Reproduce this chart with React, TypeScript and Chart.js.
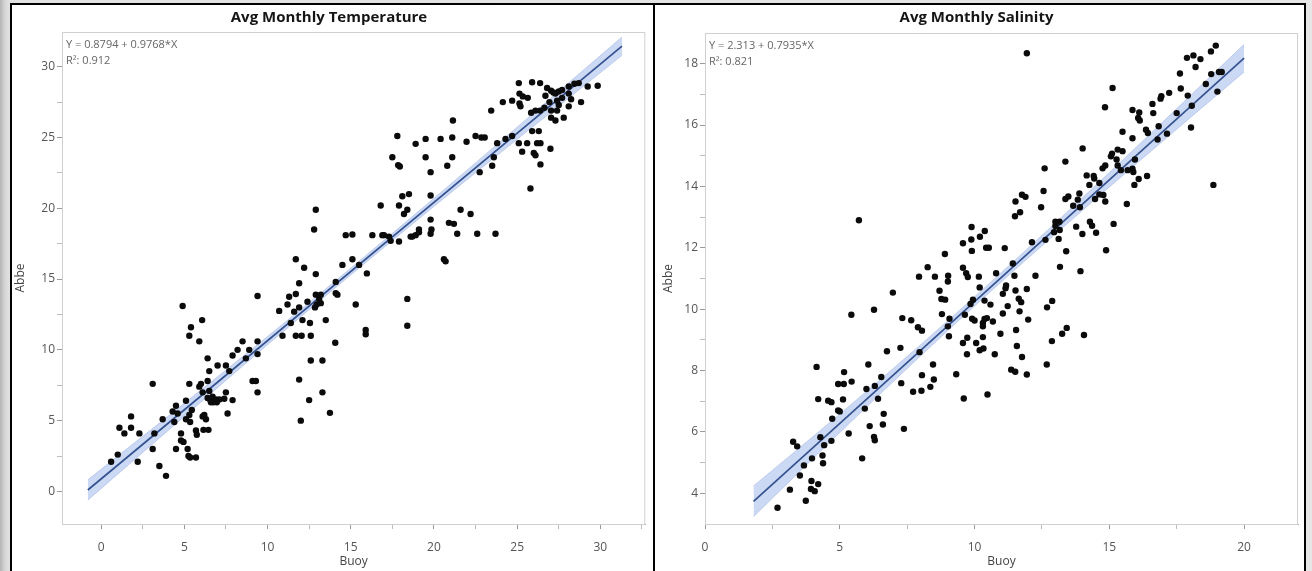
import React, { useEffect, useRef } from 'react';
import { Chart, registerables } from 'chart.js';

Chart.register(...registerables);

// ---------------- Avg Monthly Temperature ----------------
const tempBuoy = [
  0.6, 1.0, 1.1, 1.4, 1.8, 1.8, 2.2, 2.3, 3.1, 3.1, 3.2, 3.5, 3.7, 3.9, 4.3, 4.4, 4.5, 4.5, 4.6, 4.8,
  4.8, 4.95, 4.9, 5.1, 5.1, 5.2, 5.25, 5.35, 5.3, 5.3, 5.3, 5.35, 5.4, 5.45, 5.7, 5.7, 5.75, 5.9, 5.9, 6.0,
  6.07, 6.1, 6.1, 6.15, 6.2, 6.3, 6.4, 6.4, 6.45, 6.4, 6.5, 6.5, 6.55, 6.6, 6.7, 6.75, 6.9, 6.95, 7.0, 7.1,
  7.4, 7.5, 7.5, 7.6, 7.7, 7.9, 7.9, 8.2, 8.5, 8.7, 8.9, 9.1, 9.3, 9.4, 9.4, 9.4, 9.4, 10.7, 10.9, 11.2,
  11.3, 11.4, 11.6, 11.7, 11.7, 11.7, 11.9, 11.9, 11.9, 12.0, 12.05, 12.1, 12.2, 12.4, 12.5, 12.55, 12.6, 12.6, 12.9, 12.9,
  12.9, 12.8, 12.85, 12.95, 13.1, 13.2, 13.2, 13.3, 13.3, 13.5, 13.75,
  14.07, 14.1, 14.1, 14.2, 14.5, 15.1, 15.3, 15.5, 15.9, 15.9, 15.97, 16.3, 14.7, 15.1, 16.8, 16.9, 17.0, 17.3, 17.4, 17.5,
  17.8, 17.85, 17.95, 17.9, 17.9, 18.1, 18.2, 18.4, 18.4, 18.4, 18.5, 18.6, 18.7, 18.9, 18.9, 19.1, 19.1, 19.5, 19.5, 19.8,
  19.8, 19.8, 19.8, 19.85, 20.4, 20.6, 20.7, 20.8, 20.9, 21.1, 21.1, 21.2, 21.4, 21.6, 21.96, 22.2, 22.5, 22.6, 22.75, 22.85,
  23.05, 23.5, 23.6, 23.7, 23.8, 24.3, 24.7, 25.1, 25.3, 25.6, 25.8, 26.0, 26.1, 25.9, 26.3, 26.2, 26.4, 26.4, 27.0,
  21.14, 23.44, 24.14, 24.7, 25.1, 25.9, 26.38, 25.14, 25.34, 25.64, 25.14, 25.2, 25.84, 26.1, 26.38, 26.7, 26.8, 27.04, 27.18, 27.3,
  27.5, 27.7, 28.1, 28.44, 28.7, 29.24, 29.84, 28.1, 28.24, 27.7, 27.5, 27.4, 26.94, 26.64, 27.04, 27.4, 28.1, 28.84, 27.8, 27.04,
  27.3,
];
const tempAbbe = [
  2.1, 2.6, 4.5, 4.1, 4.5, 5.3, 2.1, 4.1, 7.6, 3.0, 4.1, 1.8, 5.1, 1.1, 5.65, 4.9, 3.0, 6.05, 5.5, 4.1,
  3.6, 3.5, 13.1, 5.1, 6.4, 3.0, 2.5, 2.4, 11.0, 7.6, 5.4, 4.9, 11.6, 5.75, 2.4, 4.3, 4.0, 10.6, 7.4, 7.6,
  12.1, 7.0, 5.3, 4.35, 5.4, 5.1, 7.8, 9.4, 4.35, 6.6, 8.5, 7.1, 6.5, 6.3, 6.7, 6.3, 6.5, 6.3, 8.9, 6.5,
  6.55, 8.9, 7.0, 5.5, 8.5, 6.45, 9.6, 10.0, 10.6, 9.4, 10.0, 7.8, 7.8, 10.6, 9.7, 7.0, 13.8, 12.75, 11.0, 13.2,
  13.75, 11.9, 12.7, 13.95, 11.0, 16.4, 7.9, 13.0, 14.7, 5.0, 11.0, 12.1, 15.8, 13.4, 6.45, 11.9, 9.25, 11.0, 15.35, 13.9,
  19.9, 18.5, 13.0, 13.2, 13.6, 13.3, 13.9, 9.25, 7.0, 12.1, 5.55,
  10.5, 14.8, 14.0, 13.9, 16.0, 16.4, 13.2, 16.0, 11.4, 11.1, 15.4, 18.1, 18.1, 18.15, 20.2, 18.1, 18.1, 18.0, 17.7, 23.6,
  25.1, 23.05, 22.95, 20.2, 17.65, 20.85, 19.6, 19.9, 13.6, 11.7, 21.0, 18.0, 18.0, 24.55, 18.1, 18.5, 18.3, 24.9, 23.6, 19.2,
  22.55, 18.2, 20.9, 18.5, 24.9, 16.4, 16.25, 23.0, 18.97, 25.0, 23.6, 18.9, 18.2, 19.9, 24.7, 19.6, 25.1, 18.2, 22.55, 25.0,
  25.0, 23.0, 23.6, 18.2, 24.6, 24.9, 25.1, 24.6, 24.0, 24.6, 21.4, 23.9, 23.75, 25.45, 25.45, 24.6, 24.6, 23.1, 24.2,
  26.2, 26.9, 27.5, 27.6, 28.84, 28.9, 28.84, 28.1, 27.9, 27.8, 27.4, 27.2, 26.75, 26.9, 26.9, 27.95, 28.5, 28.3, 28.18, 28.1,
  28.25, 28.35, 28.6, 28.8, 28.84, 28.6, 28.65, 28.1, 27.7, 27.8, 27.3, 27.6, 27.5, 27.1, 26.9, 26.9, 27.2, 27.5, 26.4, 26.4,
  26.2,
];
const tempFitX = [-0.8, 31.3];
const tempFitY = [0.1, 31.45];
const tempBandX = [-0.8, 5, 10, 15, 20, 25, 31.3];
const tempBandLow = [-0.62, 5.3, 10.36, 15.29, 20.13, 24.87, 30.8];
const tempBandHigh = [0.82, 6.22, 10.94, 15.77, 20.7, 25.73, 32.1];
const tempXMajor = [0, 5, 10, 15, 20, 25, 30];
const tempXMinor = [2.5, 7.5, 12.5, 17.5, 22.5, 27.5, 32.5];
const tempYMajor = [0, 5, 10, 15, 20, 25, 30];
const tempYMinor = [-2.5, 2.5, 7.5, 12.5, 17.5, 22.5, 27.5, 32.5];

// ---------------- Avg Monthly Salinity ----------------
const salBuoy = [
  5.71, 9.89, 10.38, 9.88, 10.2, 9.57, 10.43, 10.53, 9.9, 8.9, 8.26, 9.57, 9.69, 10.8, 7.94, 8.53, 9.02, 9.75, 10.16,
  11.94, 18.95, 18.77, 18.12, 18.38, 17.88, 18.2, 17.62, 18.78, 19.07, 19.17, 19.01, 18.58, 17.65, 17.91, 17.22, 16.93, 16.9, 15.12, 14.84,
  16.6, 16.63, 15.86, 16.11, 16.07, 16.13, 17.5, 18.06, 18.03, 16.83, 16.36, 16.43, 17.14, 16.79, 15.49, 15.86, 14.01, 15.1, 15.06, 15.31,
  15.49, 15.27, 15.31, 15.43, 15.95, 15.86, 15.68, 15.89, 16.4, 16.09, 15.93, 15.65, 18.86, 13.37, 12.6, 14.16, 14.42, 14.44, 14.75, 14.85,
  14.26, 14.63, 12.56, 11.76, 11.89, 11.52, 11.69, 11.5, 13.89, 13.48, 13.37, 13.83, 13.66, 13.91, 14.47, 14.78, 14.85, 14.63, 12.47, 13.0,
  13.15, 13.77, 14.28, 14.36, 14.0, 14.51, 15.16, 12.95, 13.12, 13.16, 13.0, 12.63, 12.13, 11.12, 13.4, 14.88, 13.17, 13.93, 11.48, 12.26,
  11.42,
  2.69, 3.74, 3.15, 3.95, 4.2, 3.93, 4.07, 3.52, 3.67, 3.97, 4.38, 4.36, 3.27, 3.42, 4.28, 4.42, 4.69, 4.72, 5.83, 5.33,
  6.11, 6.27, 6.3, 6.6, 6.63, 7.38, 5.93, 6.42, 4.94, 5.0, 4.57, 4.69, 4.2, 5.12, 5.99, 6.3, 6.54, 4.94, 5.15, 5.44,
  5.16, 4.14, 6.06, 7.28, 7.72, 8.03, 8.36, 8.49, 8.05, 8.46, 9.32, 9.6, 10.48, 7.96, 7.25, 6.75, 5.43, 6.27, 6.97, 7.32,
  7.65, 7.9, 8.05, 8.79, 8.7, 8.77, 8.91, 9.01, 9.07, 9.01, 9.05, 9.57, 9.73, 9.72, 10.06, 10.19, 10.33, 10.31, 10.75, 9.64,
  9.91, 10.0, 10.31, 10.37, 10.46, 10.68, 10.31, 10.19, 10.37, 10.59, 9.85, 9.94,
  11.17, 11.15, 11.05, 11.52, 11.94, 11.64, 11.73, 11.23, 11.05, 11.67, 11.99, 12.69, 12.88, 11.54, 10.96, 13.25, 13.42, 14.06, 12.87, 11.57,
  11.76, 12.68, 11.36, 11.51, 11.94,
];
const salAbbe = [
  12.9, 12.68, 12.55, 12.27, 12.36, 12.15, 12.0, 12.0, 11.9, 11.8, 11.37, 11.35, 11.17, 11.17, 11.06, 11.06, 11.09, 11.05, 11.06,
  18.34, 18.59, 18.4, 18.27, 18.15, 18.19, 17.89, 17.68, 17.66, 17.73, 17.73, 17.09, 17.34, 17.19, 16.96, 17.05, 16.94, 16.86, 17.21, 16.58,
  16.69, 16.39, 16.49, 16.41, 16.23, 16.15, 16.39, 16.63, 15.92, 15.96, 15.85, 15.74, 15.72, 15.53, 15.78, 15.57, 15.24, 15.07, 14.98, 15.2,
  15.15, 14.88, 14.68, 14.53, 14.88, 14.58, 14.53, 14.47, 14.34, 14.24, 14.05, 13.43, 14.05, 14.81, 14.59, 14.36, 14.34, 14.26, 14.59, 14.68,
  14.05, 14.11, 13.85, 13.73, 13.66, 13.51, 13.16, 13.03, 13.77, 13.67, 13.59, 13.57, 13.37, 13.32, 13.59, 13.72, 13.51, 13.74, 13.32, 12.85,
  12.85, 12.69, 12.85, 12.72, 12.45, 12.49, 12.78, 12.51, 12.29, 12.58, 12.71, 12.26, 12.18, 11.99, 11.89, 11.92, 11.38, 11.24, 11.09, 11.09,
  11.49,
  3.53, 3.76, 4.12, 4.4, 4.3, 4.14, 4.07, 4.58, 4.91, 5.14, 4.98, 5.23, 5.68, 5.53, 5.83, 5.57, 5.71, 6.43, 5.14, 5.95,
  6.19, 5.84, 5.73, 6.24, 6.59, 6.1, 6.76, 7.08, 6.7, 6.67, 7.02, 6.97, 7.07, 7.06, 7.4, 7.5, 7.79, 7.56, 7.56, 7.64,
  7.95, 8.12, 8.2, 7.59, 7.31, 7.34, 7.47, 7.71, 7.85, 8.2, 7.88, 7.09, 7.22, 8.6, 8.74, 8.63, 9.82, 9.98, 10.54, 9.71,
  9.64, 9.41, 9.3, 9.84, 10.6, 10.33, 10.31, 10.9, 9.69, 9.44, 9.12, 8.9, 9.07, 8.53, 8.9, 8.66, 8.72, 9.09, 8.53, 9.82,
  9.69, 9.63, 9.55, 9.68, 9.71, 9.6, 9.44, 10.71, 10.28, 10.15, 10.17, 10.31,
  10.77, 10.68, 10.5, 10.61, 10.66, 10.34, 10.23, 10.1, 9.86, 9.93, 9.66, 10.06, 10.27, 9.32, 9.2, 9.2, 9.39, 9.16, 8.96, 8.8,
  8.44, 8.2, 8.03, 7.96, 7.87,
];
const salFitX = [1.8, 20];
const salFitY = [3.74, 18.18];
const salBandX = [1.8, 5, 8, 10.5, 13, 16, 20];
const salBandLow = [3.24, 5.98, 8.48, 10.5, 12.45, 14.74, 17.73];
const salBandHigh = [4.24, 6.58, 8.84, 10.8, 12.81, 15.28, 18.63];
const salXMajor = [0, 5, 10, 15, 20];
const salXMinor = [2.5, 7.5, 12.5, 17.5];
const salYMajor = [4, 6, 8, 10, 12, 14, 16, 18];
const salYMinor = [5, 7, 9, 11, 13, 15, 17];

const FONT = "'Open Sans', 'Noto Sans', sans-serif";

type PanelSpec = {
  title: string;
  eq: string;
  r2: string;
  buoy: number[];
  abbe: number[];
  fitX: number[];
  fitY: number[];
  bandX: number[];
  bandLow: number[];
  bandHigh: number[];
  xMin: number;
  xMax: number;
  yMin: number;
  yMax: number;
  xMajor: number[];
  xMinor: number[];
  yMajor: number[];
  yMinor: number[];
  padRight: number;
  titleBottom: number;
  yTitlePad: number;
};

const boxPlugin = {
  id: 'plotBox',
  beforeDatasetsDraw(chart: any) {
    const { ctx, chartArea } = chart;
    ctx.save();
    ctx.strokeStyle = '#d0d0d0';
    ctx.lineWidth = 1;
    ctx.strokeRect(chartArea.left + 0.5, chartArea.top + 0.5, chartArea.right - chartArea.left - 1, chartArea.bottom - chartArea.top);
    ctx.restore();
  },
};

function makeEqPlugin(eq: string, r2: string) {
  return {
    id: 'eqText',
    afterDraw(chart: any) {
      const { ctx, chartArea } = chart;
      ctx.save();
      ctx.fillStyle = '#666';
      ctx.font = `11px ${FONT}`;
      ctx.textBaseline = 'middle';
      ctx.textAlign = 'left';
      ctx.fillText(eq, chartArea.left + 4, chartArea.top + 12.5);
      ctx.fillText(r2, chartArea.left + 4, chartArea.top + 29);
      ctx.restore();
    },
  };
}

function tickSet(major: number[], minor: number[], min: number, max: number) {
  return [...major, ...minor].filter((v) => v >= min && v <= max).sort((a, b) => a - b);
}

function makeConfig(p: PanelSpec): any {
  const pts = p.buoy.map((x, i) => ({ x, y: p.abbe[i] }));
  const fit = p.fitX.map((x, i) => ({ x, y: p.fitY[i] }));
  const low = p.bandX.map((x, i) => ({ x, y: p.bandLow[i] }));
  const high = p.bandX.map((x, i) => ({ x, y: p.bandHigh[i] }));
  const xTicks = tickSet(p.xMajor, p.xMinor, p.xMin, p.xMax);
  const yTicks = tickSet(p.yMajor, p.yMinor, p.yMin, p.yMax);
  const tickColor = (major: number[]) => (c: any) =>
    c.tick && major.includes(c.tick.value) ? '#9a9a9a' : '#bdbdbd';
  return {
    type: 'line',
    data: {
      datasets: [
        {
          label: 'Abbe',
          data: pts,
          showLine: false,
          pointRadius: 3.2,
          pointHoverRadius: 3.2,
          pointBackgroundColor: '#0b0b0b',
          pointBorderWidth: 0,
          borderColor: '#0b0b0b',
        },
        {
          label: 'Fit',
          data: fit,
          showLine: true,
          pointRadius: 0,
          borderColor: '#34528f',
          borderWidth: 1.7,
          fill: false,
        },
        {
          label: 'Lower',
          data: low,
          showLine: true,
          pointRadius: 0,
          borderColor: 'rgba(140,165,220,0.55)',
          borderWidth: 0.8,
          cubicInterpolationMode: 'monotone',
          fill: false,
        },
        {
          label: 'Upper',
          data: high,
          showLine: true,
          pointRadius: 0,
          borderColor: 'rgba(140,165,220,0.55)',
          borderWidth: 0.8,
          cubicInterpolationMode: 'monotone',
          backgroundColor: 'rgba(120,155,225,0.38)',
          fill: '-1',
        },
      ],
    },
    options: {
      animation: false,
      responsive: false,
      maintainAspectRatio: false,
      events: [],
      layout: { padding: { left: 0, right: p.padRight, top: 0, bottom: 0 } },
      plugins: {
        legend: { display: false },
        tooltip: { enabled: false },
        title: {
          display: true,
          text: p.title,
          color: '#151515',
          font: { family: FONT, size: 15, weight: 'bold' },
          padding: { top: 4, bottom: p.titleBottom },
        },
      },
      scales: {
        x: {
          type: 'linear',
          min: p.xMin,
          max: p.xMax,
          afterBuildTicks: (s: any) => {
            s.ticks = xTicks.map((v) => ({ value: v }));
          },
          afterFit: (s: any) => {
            s.height = 47;
          },
          grid: { display: true, drawOnChartArea: false, drawTicks: true, tickLength: 5, tickColor: tickColor(p.xMajor) },
          border: { display: true, color: '#a8a8a8', width: 1 },
          ticks: {
            autoSkip: false,
            maxRotation: 0,
            padding: 11,
            color: '#555',
            font: { family: FONT, size: 12 },
            callback: (v: number) => (p.xMajor.includes(v) ? String(v) : ''),
          },
          title: {
            display: true,
            text: 'Buoy',
            color: '#444',
            font: { family: FONT, size: 12 },
            padding: { top: 0, bottom: 2 },
          },
        },
        y: {
          type: 'linear',
          min: p.yMin,
          max: p.yMax,
          afterBuildTicks: (s: any) => {
            s.ticks = yTicks.map((v) => ({ value: v }));
          },
          afterFit: (s: any) => {
            s.width = 50;
          },
          grid: { display: true, drawOnChartArea: false, drawTicks: true, tickLength: 5, tickColor: tickColor(p.yMajor) },
          border: { display: true, color: '#a8a8a8', width: 1 },
          ticks: {
            autoSkip: false,
            padding: 2,
            color: '#555',
            font: { family: FONT, size: 12 },
            callback: (v: number) => (p.yMajor.includes(v) ? String(v) : ''),
          },
          title: {
            display: true,
            text: 'Abbe',
            color: '#444',
            font: { family: FONT, size: 12 },
            padding: { top: p.yTitlePad, bottom: 0 },
          },
        },
      },
    },
    plugins: [boxPlugin, makeEqPlugin(p.eq, p.r2)],
  };
}

const tempSpec: PanelSpec = {
  title: 'Avg Monthly Temperature',
  eq: 'Y = 0.8794 + 0.9768*X',
  r2: 'R²: 0.912',
  buoy: tempBuoy,
  abbe: tempAbbe,
  fitX: tempFitX,
  fitY: tempFitY,
  bandX: tempBandX,
  bandLow: tempBandLow,
  bandHigh: tempBandHigh,
  xMin: -2.35,
  xMax: 32.7,
  yMin: -2.3,
  yMax: 32.45,
  xMajor: tempXMajor,
  xMinor: tempXMinor,
  yMajor: tempYMajor,
  yMinor: tempYMinor,
  padRight: 7,
  titleBottom: 5,
  yTitlePad: 1,
};

const salSpec: PanelSpec = {
  title: 'Avg Monthly Salinity',
  eq: 'Y = 2.313 + 0.7935*X',
  r2: 'R²: 0.821',
  buoy: salBuoy,
  abbe: salAbbe,
  fitX: salFitX,
  fitY: salFitY,
  bandX: salBandX,
  bandLow: salBandLow,
  bandHigh: salBandHigh,
  xMin: 0,
  xMax: 22,
  yMin: 3,
  yMax: 19,
  xMajor: salXMajor,
  xMinor: salXMinor,
  yMajor: salYMajor,
  yMinor: salYMinor,
  padRight: 6,
  titleBottom: 6,
  yTitlePad: 6,
};

export default function App() {
  const leftRef = useRef<HTMLCanvasElement>(null);
  const rightRef = useRef<HTMLCanvasElement>(null);

  useEffect(() => {
    document.body.style.margin = '0';
    const c1 = new Chart(leftRef.current as HTMLCanvasElement, makeConfig(tempSpec));
    const c2 = new Chart(rightRef.current as HTMLCanvasElement, makeConfig(salSpec));
    return () => {
      c1.destroy();
      c2.destroy();
    };
  }, []);

  return (
    <div
      style={{
        position: 'fixed',
        left: 0,
        top: 0,
        width: 1312,
        height: 571,
        overflow: 'hidden',
        background: 'linear-gradient(to right, #b4b4b4 0px, #d6d6d6 5px, #e2e2e2 10px, #e6e6e6 100%)',
      }}
    >
      <div
        style={{
          position: 'absolute',
          left: 10,
          top: 3,
          width: 641,
          height: 600,
          border: '2px solid #000',
          background: '#fff',
        }}
      >
        <canvas ref={leftRef} width={641} height={566} style={{ display: 'block' }} />
      </div>
      <div
        style={{
          position: 'absolute',
          left: 653,
          top: 3,
          width: 649,
          height: 600,
          border: '2px solid #000',
          background: '#fff',
        }}
      >
        <canvas ref={rightRef} width={649} height={566} style={{ display: 'block' }} />
      </div>
    </div>
  );
}
